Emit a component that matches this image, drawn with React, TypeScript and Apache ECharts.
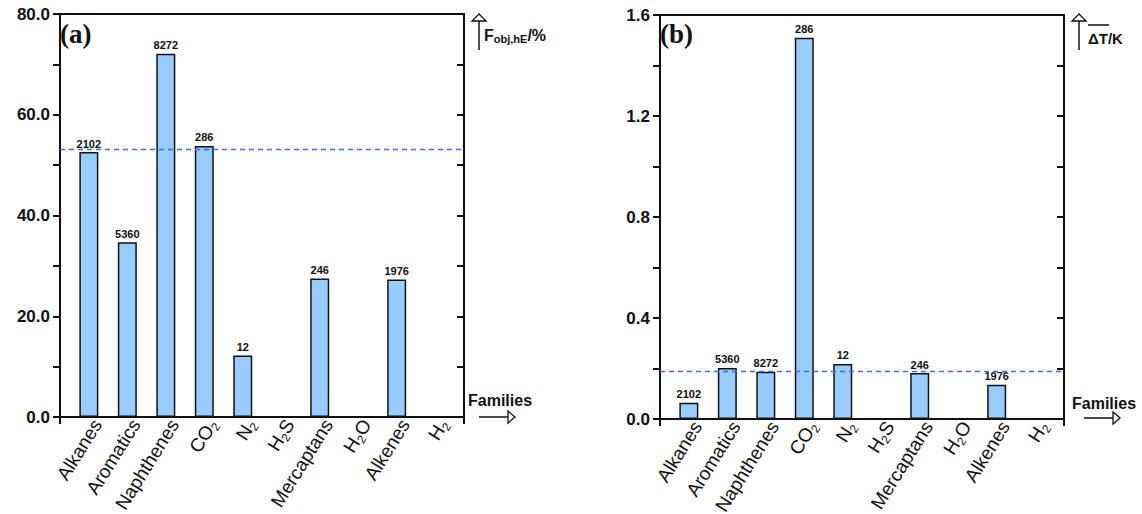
import React, { useEffect, useRef } from 'react';
import * as echarts from 'echarts';

const categories = ['Alkanes', 'Aromatics', 'Naphthenes', 'CO2', 'N2', 'H2S', 'Mercaptans', 'H2O', 'Alkenes', 'H2'];
const categoryLabels = ['Alkanes', 'Aromatics', 'Naphthenes', 'CO{s|2}', 'N{s|2}', 'H{s|2}S', 'Mercaptans', 'H{s|2}O', 'Alkenes', 'H{s|2}'];
const fobjValues = [52.6, 34.7, 72.1, 53.8, 12.2, null, 27.5, null, 27.3, null];
const dTValues = [0.064, 0.202, 0.187, 1.51, 0.218, null, 0.182, null, 0.136, null];
const counts = ['2102', '5360', '8272', '286', '12', '', '246', '', '1976', ''];
const fobjMean = 53.2;
const dTMean = 0.192;
const fobjTicks = { max: 80, interval: 10, labelEvery: 20 };
const dTTicks = { max: 1.6, interval: 0.2, labelEvery: 0.4 };

const SANS = '"Liberation Sans", Arial, Helvetica, sans-serif';
const INK = '#111';
const lineStyle = { color: INK, width: 2 };
const LABEL_SHIFT = 0.22;

function xAxes(g: number) {
  return [
    {
      type: 'value', gridIndex: g, position: 'bottom', min: -0.75, max: 9.75,
      axisLine: { show: true, onZero: false, lineStyle },
      axisTick: { show: true, customValues: [-0.75, 9.75], length: 7, lineStyle },
      axisLabel: {
        show: true,
        customValues: categories.map((_, i) => i + LABEL_SHIFT),
        formatter: (v: number) => categoryLabels[Math.round(v - LABEL_SHIFT)],
        rotate: 58, margin: 4, fontSize: 19, color: INK, fontFamily: SANS,
        hideOverlap: false,
        rich: { s: { fontSize: 12, fontFamily: SANS, color: INK, verticalAlign: 'bottom', padding: [11, 0, 0, 0] } },
      },
      splitLine: { show: false },
    },
    {
      type: 'value', gridIndex: g, position: 'top', min: -0.75, max: 9.75,
      axisLine: { show: true, onZero: false, lineStyle },
      axisTick: { show: false }, axisLabel: { show: false }, splitLine: { show: false },
    },
  ];
}

function yAxes(g: number, t: { max: number; interval: number; labelEvery: number }) {
  return [
    {
      type: 'value', gridIndex: g, position: 'left', min: 0, max: t.max, interval: t.interval,
      axisLine: { show: true, onZero: false, lineStyle },
      axisTick: { show: true, length: 7, lineStyle },
      axisLabel: {
        formatter: (v: number) => {
          const r = v / t.labelEvery;
          return Math.abs(r - Math.round(r)) < 1e-6 ? v.toFixed(1) : '';
        },
        fontSize: 17, fontWeight: 'bold', color: INK, fontFamily: SANS, margin: 10,
      },
      splitLine: { show: false },
    },
    {
      type: 'value', gridIndex: g, position: 'right', min: 0, max: t.max, interval: t.interval,
      axisLine: { show: true, onZero: false, lineStyle },
      axisTick: { show: true, inside: true, length: 7, lineStyle },
      axisLabel: { show: false }, splitLine: { show: false },
    },
  ];
}

function barSeries(values: (number | null)[], mean: number, axisIdx: number) {
  return {
    type: 'bar', xAxisIndex: axisIdx, yAxisIndex: axisIdx,
    data: values.map((v, i) => [i, v == null ? '-' : v]),
    barWidth: 19,
    itemStyle: { color: '#99ccff', borderColor: INK, borderWidth: 1.5 },
    label: {
      show: true, position: 'top', distance: 3,
      formatter: (p: any) => counts[p.dataIndex],
      fontSize: 11, fontWeight: 'bold', color: INK, fontFamily: SANS,
    },
    markLine: {
      silent: true, symbol: ['none', 'none'], label: { show: false },
      lineStyle: { type: [5, 4], color: '#3a6cf4', width: 1.3 },
      data: [{ yAxis: mean }],
    },
  };
}

function arrowUp(x: number, top: number, bottom: number) {
  return [
    { type: 'line', shape: { x1: x, y1: top + 7, x2: x, y2: bottom }, style: { stroke: INK, lineWidth: 1.5 } },
    { type: 'polygon', shape: { points: [[x - 7, top + 7], [x + 7, top + 7], [x, top]] }, style: { fill: '#fff', stroke: INK, lineWidth: 1.3 } },
  ];
}
function arrowRight(y: number, left: number, right: number) {
  return [
    { type: 'line', shape: { x1: left, y1: y, x2: right - 7, y2: y }, style: { stroke: INK, lineWidth: 1.5 } },
    { type: 'polygon', shape: { points: [[right - 7, y - 6], [right - 7, y + 6], [right, y]] }, style: { fill: '#fff', stroke: INK, lineWidth: 1.3 } },
  ];
}

export default function App() {
  const ref = useRef<HTMLDivElement>(null);
  useEffect(() => {
    document.body.style.margin = '0';
    const chart = echarts.init(ref.current!, null, { renderer: 'svg' });
    chart.setOption({
      animation: false,
      backgroundColor: '#fff',
      grid: [
        { left: 60, top: 14, width: 404, height: 403, containLabel: false, outerBoundsMode: 'none' },
        { left: 660, top: 15, width: 404, height: 404, containLabel: false, outerBoundsMode: 'none' },
      ],
      xAxis: [...xAxes(0), ...xAxes(1)],
      yAxis: [...yAxes(0, fobjTicks), ...yAxes(1, dTTicks)],
      series: [barSeries(fobjValues, fobjMean, 0), barSeries(dTValues, dTMean, 2)],
      graphic: [
        { type: 'text', x: 60, y: 20, style: { text: '(a)', font: 'bold 27px "Liberation Serif", "Times New Roman", serif', fill: INK } },
        { type: 'text', x: 660, y: 20, style: { text: '(b)', font: 'bold 27px "Liberation Serif", "Times New Roman", serif', fill: INK } },
        {
          type: 'text', x: 484, y: 26,
          style: {
            text: 'F{s|obj,hE}/%', fill: INK, font: `bold 16px ${SANS}`,
            rich: { s: { fontSize: 11, fontWeight: 'bold', fontFamily: SANS, fill: INK, verticalAlign: 'bottom', padding: [7, 0, 0, 0] } },
          },
        },
        { type: 'text', x: 1088, y: 31, style: { text: 'ΔT/K', fill: INK, font: `bold 15px ${SANS}` } },
        { type: 'line', shape: { x1: 1088, y1: 25, x2: 1109, y2: 25 }, style: { stroke: INK, lineWidth: 1.5 } },
        { type: 'text', x: 468, y: 392, style: { text: 'Families', fill: INK, font: `bold 16px ${SANS}` } },
        { type: 'text', x: 1072, y: 395, style: { text: 'Families', fill: INK, font: `bold 16px ${SANS}` } },
        ...arrowUp(479, 14, 50),
        ...arrowRight(417, 479, 515),
        ...arrowUp(1079, 14, 50),
        ...arrowRight(418, 1084, 1120),
      ],
    });
    return () => chart.dispose();
  }, []);
  return <div ref={ref} style={{ width: 1142, height: 514 }} />;
}
